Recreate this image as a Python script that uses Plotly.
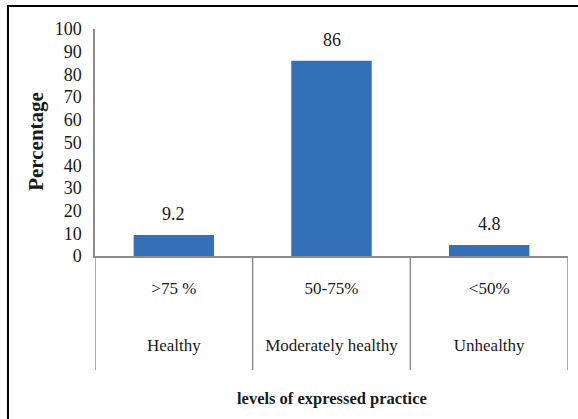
import plotly.graph_objects as go

levels = [">75 %", "50-75%", "<50%"]
categories = ["Healthy", "Moderately healthy", "Unhealthy"]
percentages = [9.2, 86, 4.8]
value_labels = ["9.2", "86", "4.8"]
y_ticks = list(range(0, 101, 10))

FONT = "Times New Roman, Liberation Serif, serif"
TXT = "#1a1a1a"
AX = "#8c8c8c"

x_idx = list(range(len(categories)))

fig = go.Figure()
fig.add_trace(go.Bar(
    x=x_idx, y=percentages, width=0.51,
    marker=dict(color="#3470b8", line=dict(width=0)),
    hoverinfo="skip",
))
# invisible trace to carry the second row of category labels
fig.add_trace(go.Scatter(x=x_idx, y=[0, 0, 0], xaxis="x2", mode="markers",
                         marker=dict(opacity=0), hoverinfo="skip", showlegend=False))

annotations = []
for i, (v, lab) in enumerate(zip(percentages, value_labels)):
    annotations.append(dict(x=i, y=v, xref="x", yref="y", text=lab, showarrow=False,
                            yanchor="bottom", yshift=9, font=dict(family=FONT, size=18, color=TXT)))
annotations.append(dict(x=0.5, y=-0.626, xref="paper", yref="paper",
                        text="<b>levels of expressed practice</b>", showarrow=False,
                        yanchor="middle", font=dict(family=FONT, size=16.5, color=TXT)))
annotations.append(dict(x=-0.125, y=0.507, xref="paper", yref="paper",
                        text="<b>Percentage</b>", showarrow=False, textangle=-90,
                        xanchor="center", yanchor="middle", font=dict(family=FONT, size=21, color=TXT)))

shapes = []
for b in [-0.5, 0.5, 1.5, 2.5]:
    shapes.append(dict(type="line", xref="x", yref="paper", x0=b, x1=b, y0=0, y1=-0.502,
                       line=dict(color=AX, width=1.5)))
shapes.append(dict(type="rect", xref="paper", yref="paper", x0=-0.184, x1=1.1, y0=-0.9, y1=1.101,
                   line=dict(color="black", width=2), fillcolor="rgba(0,0,0,0)"))

fig.update_layout(
    width=578, height=419,
    margin=dict(l=95, r=10, t=29, b=163),
    paper_bgcolor="white", plot_bgcolor="white",
    showlegend=False,
    font=dict(family=FONT, size=18, color=TXT),
    annotations=annotations, shapes=shapes,
    xaxis=dict(range=[-0.5, 2.5], tickvals=x_idx, ticktext=levels, ticks="",
               ticklabelstandoff=16, tickfont=dict(family=FONT, size=17, color=TXT),
               showgrid=False, zeroline=False, showline=True, linecolor=AX, linewidth=1.5,
               fixedrange=True),
    xaxis2=dict(range=[-0.5, 2.5], overlaying="x", side="bottom", anchor="y",
                tickvals=x_idx, ticktext=categories, ticks="",
                ticklabelstandoff=77, tickfont=dict(family=FONT, size=17, color=TXT),
                showgrid=False, zeroline=False, showline=False, fixedrange=True),
    yaxis=dict(range=[0, 100], tickvals=y_ticks, showgrid=False, zeroline=False,
               showline=True, linecolor=AX, linewidth=1.5, ticks="",
               ticklabelstandoff=8, tickfont=dict(family=FONT, size=18, color=TXT), fixedrange=True),
)

fig.write_html("out.html")
